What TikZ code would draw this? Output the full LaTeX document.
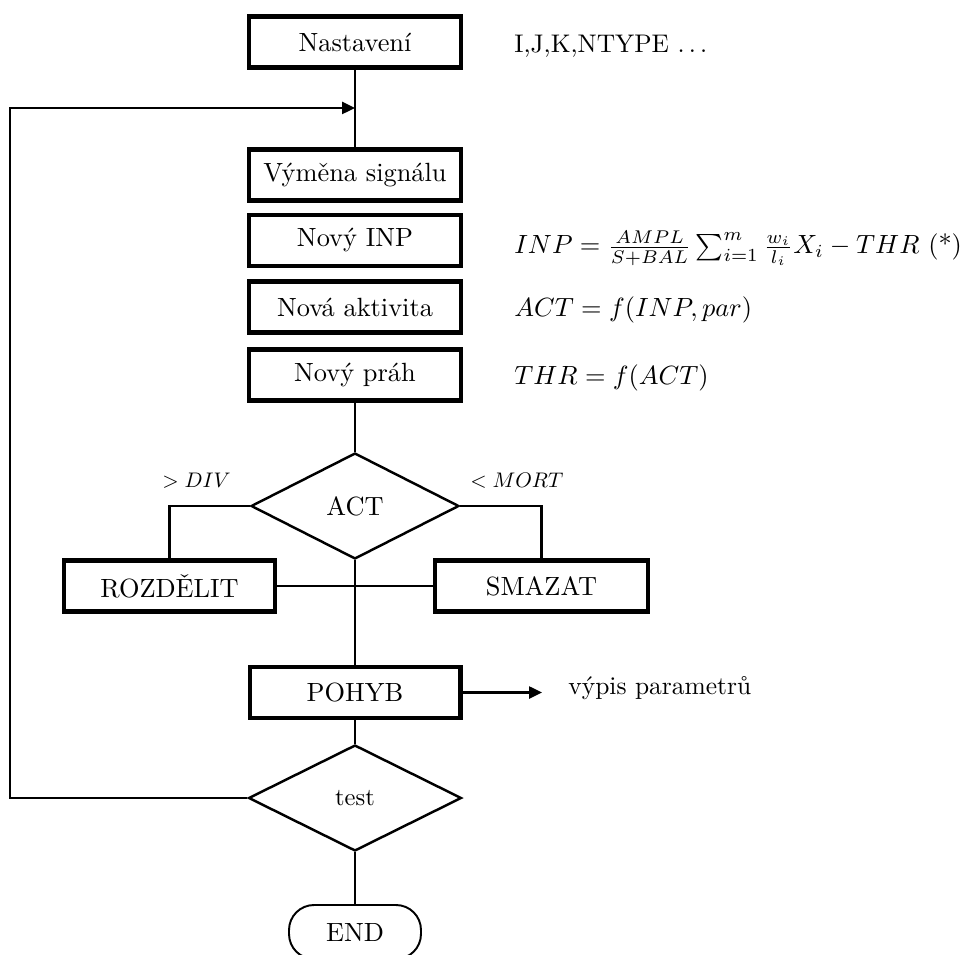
\documentclass[tikz,border=0pt]{standalone}
\usepackage{fontspec}
\usepackage{graphicx}
\usetikzlibrary{shapes.geometric,arrows.meta}
\newcommand{\bigt}[2][1.5]{\scalebox{#1}{#2}}
\begin{document}
\begin{tikzpicture}[x=0.02cm,y=-0.02cm,
  txt/.style={font=\fontsize{10}{12}\selectfont},
  box/.style={draw,line width=2.3pt,minimum width=4.24cm,minimum height=1.02cm,inner sep=0pt,txt},
  dia/.style={draw,diamond,line width=1.4pt,inner sep=0pt,txt},
  conn/.style={line width=1.5pt},
  arr/.style={conn,-{Triangle[length=7.4pt,width=6.8pt]}},
  lbl/.style={inner sep=0pt,txt}]
\useasboundingbox (0,0) rectangle (969,955);
% boxes
\node[box] (nast) at (355,42) {\bigt{Nastavení}};
\node[box] (vym) at (355,175) {\bigt{Výměna signálu}};
\node[box] (inp) at (355,240.5) {\bigt{Nový INP}};
\node[box] (akt) at (355,307) {\bigt{Nová aktivita}};
\node[box] (prah) at (355,375) {\bigt{Nový práh}};
\node[dia,minimum width=4.16cm,minimum height=2.12cm] (act) at (355,506) {\bigt{ACT}};
\node[box,minimum width=4.22cm] (roz) at (169.5,586) {\bigt{ROZDĚLIT}};
\node[box,minimum width=4.26cm] (sma) at (541.5,586) {\bigt{SMAZAT}};
\node[box,minimum width=4.22cm] (poh) at (355,692.5) {\bigt{POHYB}};
\node[dia,minimum width=4.26cm,minimum height=2.12cm] (test) at (355,798) {\bigt[1.4]{test}};
\node[draw,line width=1.1pt,rounded corners=0.5cm,minimum width=2.64cm,minimum height=1.08cm,inner sep=0pt,txt] (end) at (355,932) {\bigt{END}};
% side texts
\node[lbl,anchor=base west] (t1) at (514,53) {\bigt[1.45]{I,J,K,NTYPE $\ldots$}};
\node[lbl,anchor=base west] (t2) at (514,254) {\bigt[1.5]{$INP=\frac{AMPL}{S+BAL}\sum_{i=1}^{m}\frac{w_i}{l_i}X_i-THR$ (*)}};
\node[lbl,anchor=base west] (t3) at (514,317) {\bigt[1.5]{$ACT=f(INP,par)$}};
\node[lbl,anchor=base west] (t4) at (514,385) {\bigt[1.5]{$THR=f(ACT)$}};
\node[lbl,anchor=base west] (ldiv) at (162,487) {\bigt[1.2]{$>DIV$}};
\node[lbl,anchor=base west] (lmort) at (470,487) {\bigt[1.2]{$<MORT$}};
\node[lbl,anchor=base west] (vyp) at (568,694) {\bigt[1.45]{výpis parametrů}};
% coordinates
\coordinate (join) at (355,108);
\coordinate (loopL) at (10,108);
\coordinate (outP) at (542,692.5);
% connectors
\draw[conn] (nast.south) -- (vym.north);
\draw[arr] (test.west) -| (loopL) -- (join);
\draw[conn] (prah.south) -- (act.north);
\draw[conn] (act.west) -| (roz.north);
\draw[conn] (act.east) -| (sma.north);
\draw[conn] (roz.east) -- (sma.west);
\draw[conn] (act.south) -- (poh.north);
\draw[arr] (poh.east) -- (outP);
\draw[conn] (poh.south) -- (test.north);
\draw[conn] (test.south) -- (end.north);
\end{tikzpicture}
\end{document}
